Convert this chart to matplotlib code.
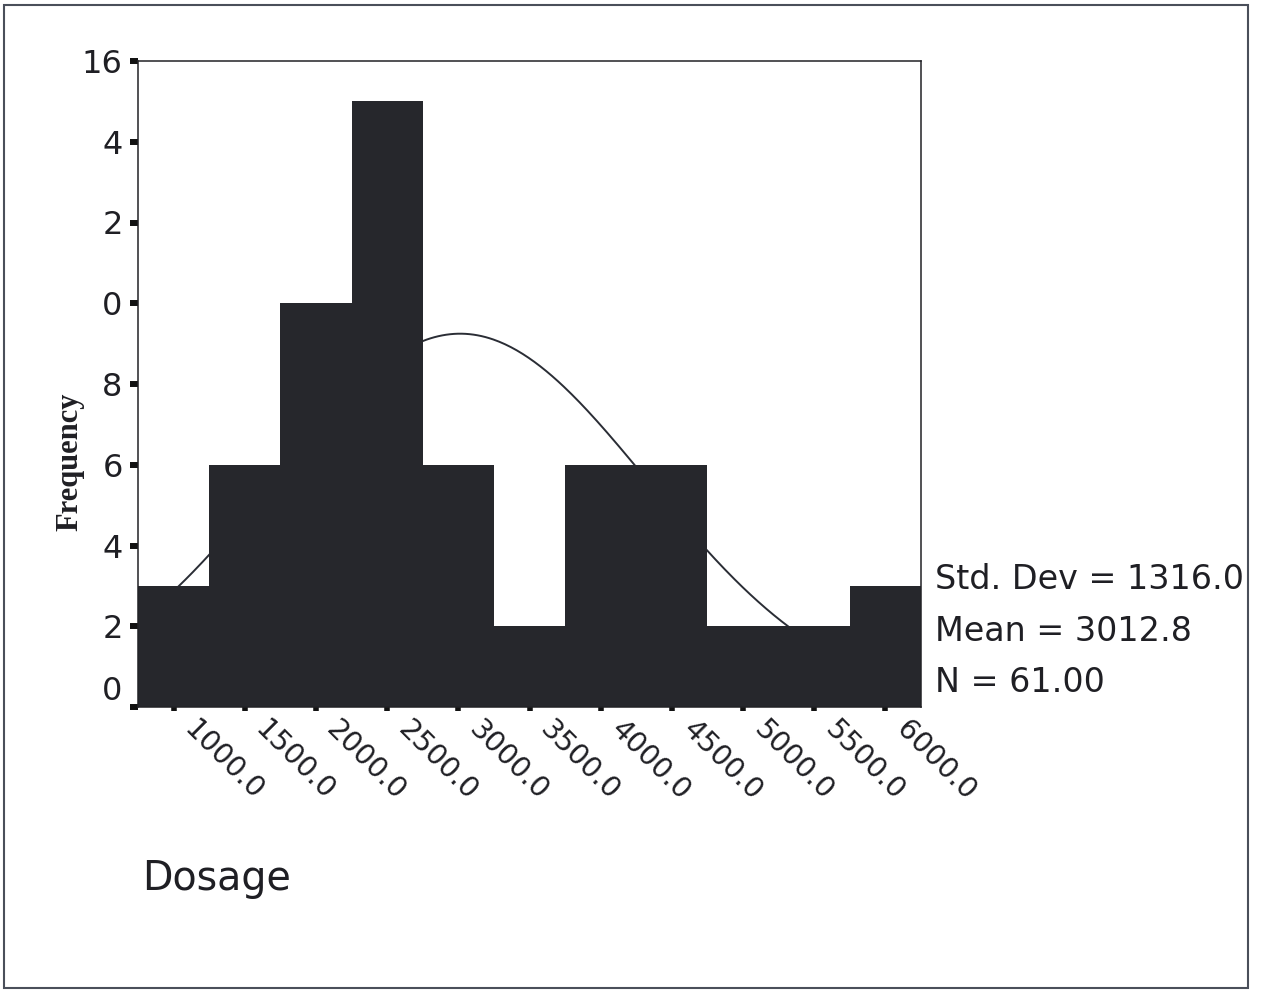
import numpy as np
import matplotlib
matplotlib.use("Agg")
import matplotlib.pyplot as plt
from matplotlib.patches import Rectangle
from matplotlib.transforms import ScaledTranslation


# Histogram of dosage, bins of width 500 centred on the tick values
bin_centers = [1000, 1500, 2000, 2500, 3000, 3500, 4000, 4500, 5000, 5500, 6000]
counts = [3, 6, 10, 15, 6, 2, 6, 6, 2, 2, 3]
bin_width = 500

x_tick_labels = ["1000.0", "1500.0", "2000.0", "2500.0", "3000.0", "3500.0",
                 "4000.0", "4500.0", "5000.0", "5500.0", "6000.0"]
y_ticks = [0, 2, 4, 6, 8, 10, 12, 14, 16]
# leading digits of 10/12/14 are cut off in the scanned original
y_tick_labels = ["0", "2", "4", "6", "8", "0", "2", "4", "16"]

std_dev = 1316.0
mean = 3012.8
n = 61.00

bar_color = "#26272c"
ink = "#1f1f24"

fig = plt.figure(figsize=(12.63, 9.9), dpi=100)
ax = fig.add_axes([138 / 1263, 1 - 707 / 990, 783 / 1263, 646 / 990])

# normal curve fitted from the summary stats, drawn behind the bars
xs = np.linspace(750, 6250, 400)
curve = n * bin_width / (std_dev * np.sqrt(2 * np.pi)) * np.exp(-0.5 * ((xs - mean) / std_dev) ** 2)
ax.plot(xs, curve, color="#2a2d35", linewidth=1.4, zorder=1)

ax.bar(bin_centers, counts, width=bin_width, color=bar_color,
       edgecolor=bar_color, linewidth=0, zorder=2)

ax.set_xlim(750, 6250)
ax.set_ylim(0, 16)

for side in ["left", "right", "top", "bottom"]:
    ax.spines[side].set_linewidth(1.1)
    ax.spines[side].set_color("#222226")

ax.set_yticks(y_ticks)
ax.set_yticklabels(y_tick_labels, fontsize=23, color=ink, family="DejaVu Sans")
ax.tick_params(axis="y", direction="out", length=6, width=4.3, pad=5, color="#111")

ax.set_xticks(bin_centers)
ax.set_xticklabels(x_tick_labels, fontsize=20.5, color=ink, family="DejaVu Sans",
                   rotation=-45, ha="left", va="center", rotation_mode="anchor")
ax.tick_params(axis="x", direction="out", length=3, width=4, pad=0, color="#111")

shift = ScaledTranslation(0.15, -0.14, fig.dpi_scale_trans)
for label in ax.get_xticklabels():
    label.set_transform(label.get_transform() + shift)

# bottom "0" sits a little above its tick in the original
zero_label = ax.get_yticklabels()[0]
zero_label.set_transform(zero_label.get_transform() + ScaledTranslation(0, 0.19, fig.dpi_scale_trans))

fig.text(70 / 1263, 1 - 462 / 990, "Frequency", rotation=90, ha="center", va="center",
         fontsize=22, fontweight="bold", family="Liberation Serif", color=ink)

fig.text(142 / 1263, 1 - 890 / 990, "Dosage", fontsize=28.5, va="baseline",
         family="DejaVu Sans", color=ink)

stats_x = 935 / 1263
fig.text(stats_x, 1 - 589 / 990, f"Std. Dev = {std_dev:.1f}", fontsize=24,
         va="baseline", family="DejaVu Sans", color=ink)
fig.text(stats_x, 1 - 641 / 990, f"Mean = {mean:.1f}", fontsize=24,
         va="baseline", family="DejaVu Sans", color=ink)
fig.text(stats_x, 1 - 692 / 990, f"N = {n:.2f}", fontsize=24,
         va="baseline", family="DejaVu Sans", color=ink)

# frame round the whole chart
fig.patches.append(Rectangle((4 / 1263, 2 / 990), 1244 / 1263, 983 / 990,
                             transform=fig.transFigure, fill=False,
                             edgecolor="#4a4f5a", linewidth=1.5))

fig.savefig("out.png", dpi=100)
